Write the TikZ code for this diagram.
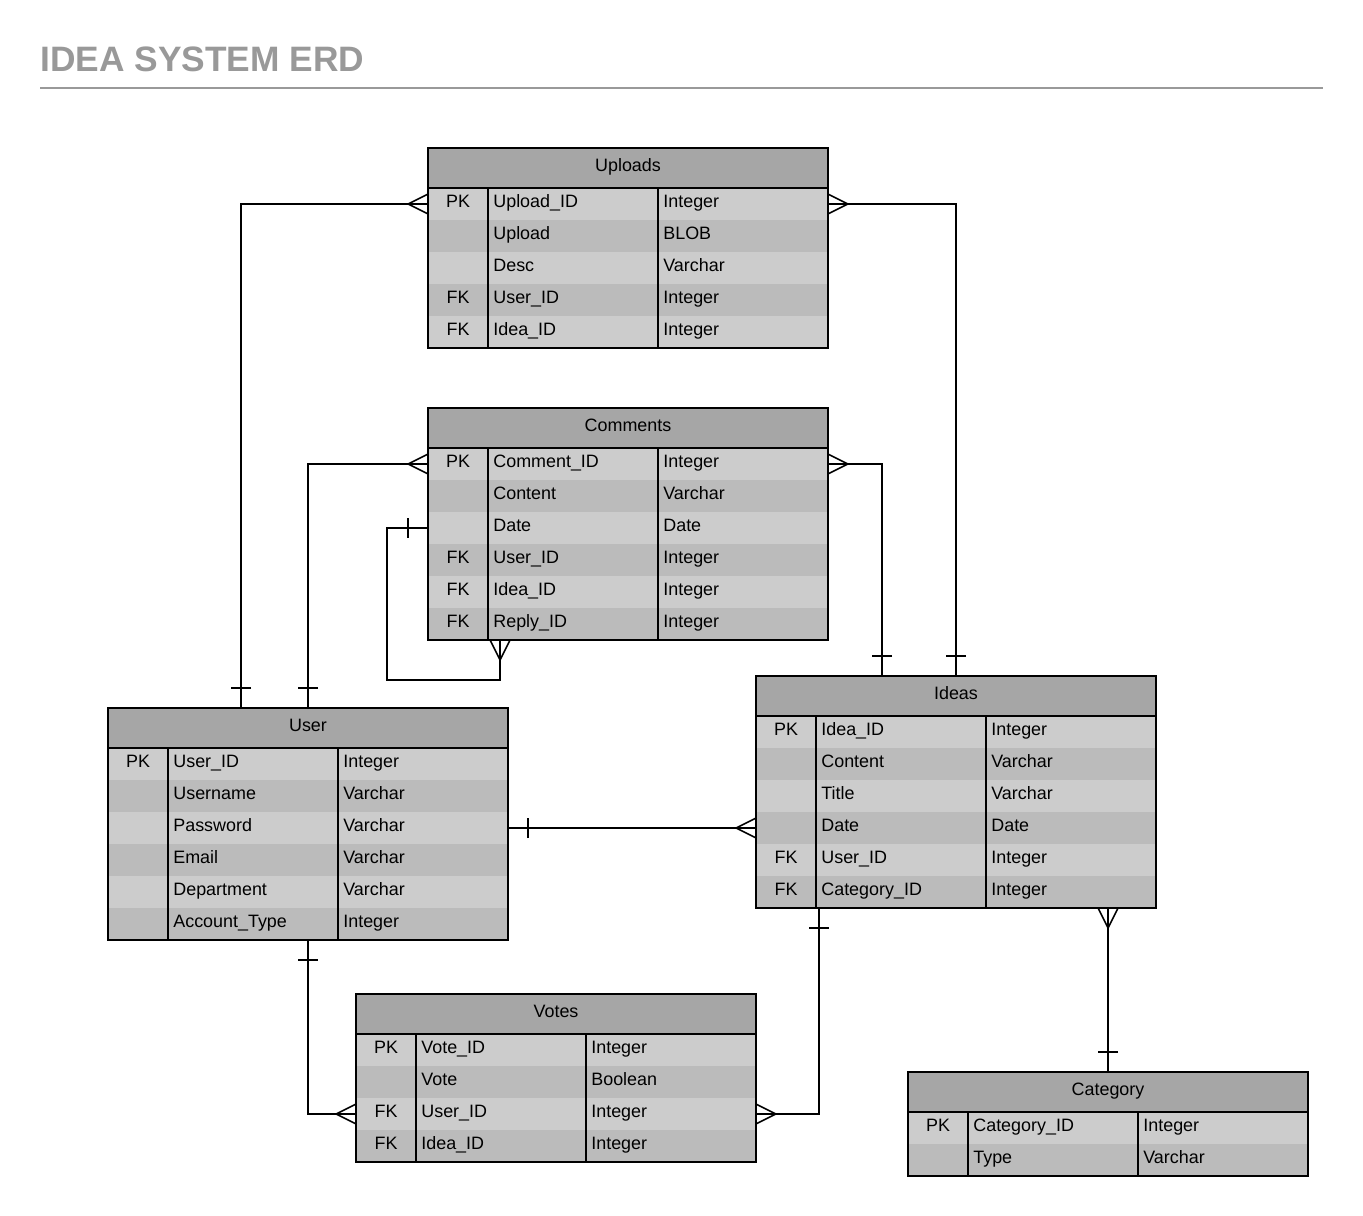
\documentclass[tikz,border=0pt]{standalone}
\usepackage{fontspec}
\setmainfont{Liberation Sans}
\usetikzlibrary{calc}
\usetikzlibrary{decorations.markings}
\definecolor{headgray}{HTML}{A6A6A6}
\definecolor{rowlight}{HTML}{CCCCCC}
\definecolor{rowdark}{HTML}{BBBBBB}
\definecolor{titlegray}{HTML}{999999}

\begin{document}
\begin{tikzpicture}[x=0.02cm,y=-0.02cm,font=\fontsize{10.2}{12}\selectfont,
	head/.style = {fill=headgray, minimum width=8cm, minimum height=0.8cm, inner sep=0, outer sep=0, text height=3.8pt, text depth=0pt},
	rowbox/.style = {minimum width=8cm, minimum height=0.64cm, inner sep=0, outer sep=0},
	cell/.style = {inner sep=0, text height=3.8pt, text depth=0pt},
	tableline/.style = {line width=1pt},
	link/.style = {line width=0.9pt},
	one/.style = {postaction={decorate, decoration={markings, mark=at position 0.4cm with {\draw[link] (0,-0.2cm) -- (0,0.2cm);}}}},
	many/.style = {postaction={decorate, decoration={markings, mark=at position -0.4cm with {\draw[link] (0.4cm,0.2cm) -- (0,0) -- (0.4cm,-0.2cm);}}}}]
	\useasboundingbox (0,0) rectangle (1363,1216);
	
	\node[anchor=base west, inner sep=0, font=\fontsize{20.1}{24}\selectfont\bfseries, text=titlegray] (title) at (40,72) {IDEA SYSTEM ERD};
	\draw[titlegray, line width=0.8pt] (40,88) -- (1323,88);
	
	% Uploads
	\node[head] (uploads) at (628,168) {Uploads};
	\foreach \k/\f/\t [count=\i] in {PK/Upload\_ID/Integer, /Upload/BLOB, /Desc/Varchar, FK/User\_ID/Integer, FK/Idea\_ID/Integer} {
		\ifodd\i\relax \def\rowcol{rowlight}\else \def\rowcol{rowdark}\fi
		\node[rowbox, fill=\rowcol] (uploads-\i) at (628,{172+32*\i}) {};
		\node[cell] at ($(uploads-\i)+(-170,0)$) {\k};
		\node[cell, anchor=west] at ($(uploads-\i)+(-135,0)$) {\f};
		\node[cell, anchor=west] at ($(uploads-\i)+(35,0)$) {\t};
	}
	\draw[tableline] (uploads.north west) rectangle (uploads-5.south east);
	\draw[tableline] (uploads.south west) -- (uploads.south east);
	\draw[tableline] ($(uploads-1.north west)+(60,0)$) -- ($(uploads-5.south west)+(60,0)$);
	\draw[tableline] ($(uploads-1.north west)+(230,0)$) -- ($(uploads-5.south west)+(230,0)$);
	
	% Comments
	\node[head] (comments) at (628,428) {Comments};
	\foreach \k/\f/\t [count=\i] in {PK/Comment\_ID/Integer, /Content/Varchar, /Date/Date, FK/User\_ID/Integer, FK/Idea\_ID/Integer, FK/Reply\_ID/Integer} {
		\ifodd\i\relax \def\rowcol{rowlight}\else \def\rowcol{rowdark}\fi
		\node[rowbox, fill=\rowcol] (comments-\i) at (628,{432+32*\i}) {};
		\node[cell] at ($(comments-\i)+(-170,0)$) {\k};
		\node[cell, anchor=west] at ($(comments-\i)+(-135,0)$) {\f};
		\node[cell, anchor=west] at ($(comments-\i)+(35,0)$) {\t};
	}
	\draw[tableline] (comments.north west) rectangle (comments-6.south east);
	\draw[tableline] (comments.south west) -- (comments.south east);
	\draw[tableline] ($(comments-1.north west)+(60,0)$) -- ($(comments-6.south west)+(60,0)$);
	\draw[tableline] ($(comments-1.north west)+(230,0)$) -- ($(comments-6.south west)+(230,0)$);
	
	% User
	\node[head] (user) at (308,728) {User};
	\foreach \k/\f/\t [count=\i] in {PK/User\_ID/Integer, /Username/Varchar, /Password/Varchar, /Email/Varchar, /Department/Varchar, /Account\_Type/Integer} {
		\ifodd\i\relax \def\rowcol{rowlight}\else \def\rowcol{rowdark}\fi
		\node[rowbox, fill=\rowcol] (user-\i) at (308,{732+32*\i}) {};
		\node[cell] at ($(user-\i)+(-170,0)$) {\k};
		\node[cell, anchor=west] at ($(user-\i)+(-135,0)$) {\f};
		\node[cell, anchor=west] at ($(user-\i)+(35,0)$) {\t};
	}
	\draw[tableline] (user.north west) rectangle (user-6.south east);
	\draw[tableline] (user.south west) -- (user.south east);
	\draw[tableline] ($(user-1.north west)+(60,0)$) -- ($(user-6.south west)+(60,0)$);
	\draw[tableline] ($(user-1.north west)+(230,0)$) -- ($(user-6.south west)+(230,0)$);
	
	% Ideas
	\node[head] (ideas) at (956,696) {Ideas};
	\foreach \k/\f/\t [count=\i] in {PK/Idea\_ID/Integer, /Content/Varchar, /Title/Varchar, /Date/Date, FK/User\_ID/Integer, FK/Category\_ID/Integer} {
		\ifodd\i\relax \def\rowcol{rowlight}\else \def\rowcol{rowdark}\fi
		\node[rowbox, fill=\rowcol] (ideas-\i) at (956,{700+32*\i}) {};
		\node[cell] at ($(ideas-\i)+(-170,0)$) {\k};
		\node[cell, anchor=west] at ($(ideas-\i)+(-135,0)$) {\f};
		\node[cell, anchor=west] at ($(ideas-\i)+(35,0)$) {\t};
	}
	\draw[tableline] (ideas.north west) rectangle (ideas-6.south east);
	\draw[tableline] (ideas.south west) -- (ideas.south east);
	\draw[tableline] ($(ideas-1.north west)+(60,0)$) -- ($(ideas-6.south west)+(60,0)$);
	\draw[tableline] ($(ideas-1.north west)+(230,0)$) -- ($(ideas-6.south west)+(230,0)$);
	
	% Votes
	\node[head] (votes) at (556,1014) {Votes};
	\foreach \k/\f/\t [count=\i] in {PK/Vote\_ID/Integer, /Vote/Boolean, FK/User\_ID/Integer, FK/Idea\_ID/Integer} {
		\ifodd\i\relax \def\rowcol{rowlight}\else \def\rowcol{rowdark}\fi
		\node[rowbox, fill=\rowcol] (votes-\i) at (556,{1018+32*\i}) {};
		\node[cell] at ($(votes-\i)+(-170,0)$) {\k};
		\node[cell, anchor=west] at ($(votes-\i)+(-135,0)$) {\f};
		\node[cell, anchor=west] at ($(votes-\i)+(35,0)$) {\t};
	}
	\draw[tableline] (votes.north west) rectangle (votes-4.south east);
	\draw[tableline] (votes.south west) -- (votes.south east);
	\draw[tableline] ($(votes-1.north west)+(60,0)$) -- ($(votes-4.south west)+(60,0)$);
	\draw[tableline] ($(votes-1.north west)+(230,0)$) -- ($(votes-4.south west)+(230,0)$);
	
	% Category
	\node[head] (category) at (1108,1092) {Category};
	\foreach \k/\f/\t [count=\i] in {PK/Category\_ID/Integer, /Type/Varchar} {
		\ifodd\i\relax \def\rowcol{rowlight}\else \def\rowcol{rowdark}\fi
		\node[rowbox, fill=\rowcol] (category-\i) at (1108,{1096+32*\i}) {};
		\node[cell] at ($(category-\i)+(-170,0)$) {\k};
		\node[cell, anchor=west] at ($(category-\i)+(-135,0)$) {\f};
		\node[cell, anchor=west] at ($(category-\i)+(35,0)$) {\t};
	}
	\draw[tableline] (category.north west) rectangle (category-2.south east);
	\draw[tableline] (category.south west) -- (category.south east);
	\draw[tableline] ($(category-1.north west)+(60,0)$) -- ($(category-2.south west)+(60,0)$);
	\draw[tableline] ($(category-1.north west)+(230,0)$) -- ($(category-2.south west)+(230,0)$);
	
	% relations
	\draw[link,one,many] ($(user.north west)+(133,0)$) |- (uploads-1.west);
	\draw[link,one,many] (user.north) |- (comments-1.west);
	\draw[link,one,many] (ideas.north) |- (uploads-1.east);
	\draw[link,one,many] ($(ideas.north west)+(126,0)$) |- (comments-1.east);
	\draw[link,one,many] (comments-3.west) -| ($(comments-6.south west)+(-41,40)$) -| ($(comments-6.south west)+(72,0)$);
	\draw[link,one,many] (user-3.east) -- (ideas-4.west);
	\draw[link,one,many] (user-6.south) |- (votes-3.west);
	\draw[link,one,many] ($(ideas-6.south west)+(63,0)$) |- (votes-3.east);
	\draw[link,one,many] (category.north) -- (category.north |- ideas-6.south);
\end{tikzpicture}
\end{document}
